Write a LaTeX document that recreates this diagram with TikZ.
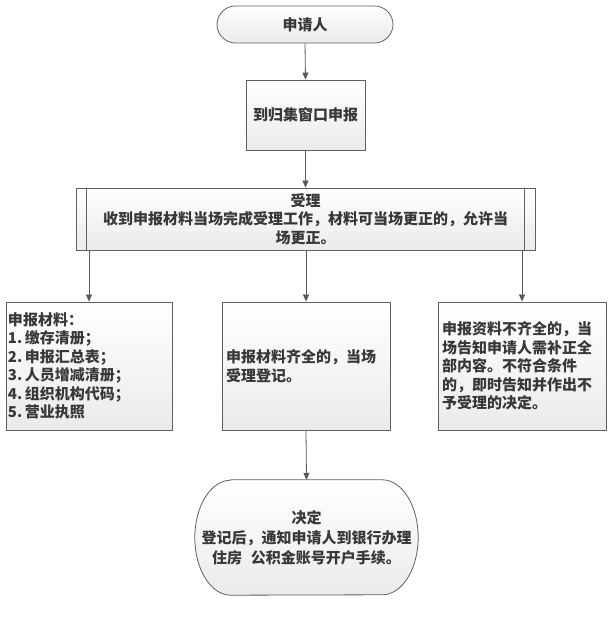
\documentclass[tikz,border=0pt]{standalone}
\usepackage{fontspec}
\setmainfont{Noto Sans CJK SC}
\usetikzlibrary{arrows.meta,shapes.misc}
\begin{document}
\begin{tikzpicture}[x=1pt,y=1pt,
  every node/.style={font=\fontsize{15}{18.5}\selectfont\bfseries, text=black!78, inner sep=0pt},
  boxfill/.style={draw=gray!75!black, line width=0.8pt, top color=white, bottom color=gray!16},
  procbox/.style={boxfill, rectangle, minimum width=#1},
  termbox/.style={boxfill, rounded rectangle, minimum width=176pt, minimum height=37pt},
  link/.style={draw=gray!70!black, line width=0.8pt, -{Triangle[length=7pt,width=6pt]}}
]
\useasboundingbox (0,0) rectangle (613,620);

% top terminal
\node[termbox] (start) at (305,595.5) {申请人};
% window
\node[procbox=119pt, minimum height=70pt] (win) at (305.5,505) {到归集窗口申报};
% predefined process
\node[procbox=459pt, minimum height=62pt, align=center] (acc) at (305.5,401)
  {受理\\收到申报材料当场完成受理工作，材料可当场更正的，允许当\\场更正。};
\draw[draw=gray!75!black, line width=0.8pt] ([xshift=11pt]acc.north west) -- ([xshift=11pt]acc.south west);
\draw[draw=gray!75!black, line width=0.8pt] ([xshift=-11pt]acc.north east) -- ([xshift=-11pt]acc.south east);

% bottom row
\node[procbox=166pt, minimum height=128pt, text width=162pt, align=left] (mat) at (89,254)
  {申报材料：\\1.\,缴存清册；\\2.\,申报汇总表；\\3.\,人员增减清册；\\4.\,组织机构代码；\\5.\,营业执照};
\node[procbox=168pt, minimum height=128pt, text width=160pt, align=left] (ok) at (306,254)
  {申报材料齐全的，当场\\受理登记。};
\node[procbox=168pt, minimum height=128pt, text width=160pt, align=left] (bad) at (522,254)
  {申报资料不齐全的，当\\场告知申请人需补正全\\部内容。不符合条件\\的，即时告知并作出不\\予受理的决定。};

% decision terminal (elliptic ends)
\node[minimum width=223pt, minimum height=115pt, align=center] (dec) at (306.5,82.5) {};
\draw[boxfill] ([xshift=36pt]dec.north west) -- ([xshift=-36pt]dec.north east)
  arc[start angle=90, end angle=-90, x radius=36pt, y radius=57.5pt]
  -- ([xshift=36pt]dec.south west)
  arc[start angle=270, end angle=90, x radius=36pt, y radius=57.5pt] -- cycle;
\node[align=center, font=\fontsize{15}{20}\selectfont\bfseries] (dectext) at (dec.center)
  {决定\\登记后，通知申请人到银行办理\\住房\hspace{0.6em}公积金账号开户手续。};

% connectors
\draw[link] (start.south) -- (win.north);
\draw[link] (win.south) -- (acc.north);
\draw[link] (acc.south -| mat.north) -- (mat.north);
\draw[link] (acc.south -| ok.north) -- (ok.north);
\draw[link] (acc.south -| bad.north) -- (bad.north);
\draw[link] (ok.south) -- (dec.north);
\end{tikzpicture}
\end{document}
